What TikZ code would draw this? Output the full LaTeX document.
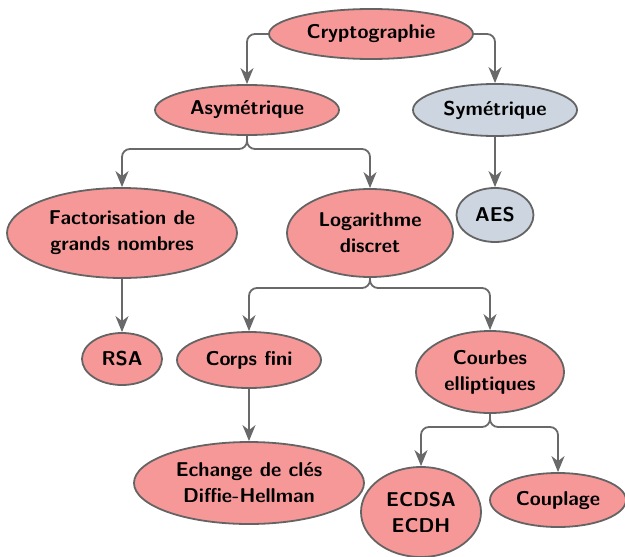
\documentclass[tikz,border=0pt]{standalone}
\usetikzlibrary{shapes.geometric,arrows.meta}
\definecolor{nodered}{RGB}{247,152,152}
\definecolor{nodeblue}{RGB}{205,214,224}
\definecolor{edgegray}{RGB}{100,100,100}
\definecolor{conngray}{RGB}{105,105,105}
\begin{document}
\begin{tikzpicture}[x=0.5pt,y=-0.5pt,
  bubble/.style={ellipse,draw=edgegray,line width=0.9pt,fill=nodered,inner sep=0pt,
    align=center,font=\fontsize{10}{13}\selectfont\sffamily\bfseries},
  bluebubble/.style={bubble,fill=nodeblue},
  conn/.style={draw=conngray,line width=0.9pt,rounded corners=4pt,
    -{Stealth[length=8pt,width=6.5pt,inset=2.5pt]}},
  dim/.style 2 args={minimum width=#1*0.5pt,minimum height=#2*0.5pt}]
\useasboundingbox (0,0) rectangle (625,556);

% tree of nodes
\node[bubble,dim={204}{50}] (crypto) at (371,34) {Cryptographie};
\node[bubble,dim={184}{50}] (asym) at (247,110) {Asymétrique};
\node[bluebubble,dim={164}{52}] (sym) at (495,110) {Symétrique};
\node[bubble,dim={230}{90}] (fact) at (122,233) {Factorisation de\\grands nombres};
\node[bubble,dim={166}{88}] (log) at (370,233) {Logarithme\\discret};
\node[bluebubble,dim={77}{54}] (aes) at (495,215) {AES};
\node[bubble,dim={80}{52}] (rsa) at (122,359) {RSA};
\node[bubble,dim={144}{56}] (corps) at (249,360) {Corps fini};
\node[bubble,dim={148}{82}] (courbes) at (490,372) {Courbes\\elliptiques};
\node[bubble,dim={230}{82}] (echange) at (249,483) {Echange de clés\\Diffie-Hellman};
\node[bubble,dim={120}{90}] (ecdsa) at (421,512) {ECDSA\\ECDH};
\node[bubble,dim={136}{54}] (couplage) at (558,500) {Couplage};

% branching points below parents
\coordinate (j1) at (247,149);
\coordinate (j2) at (370,288);
\coordinate (j3) at (490,427);

% connectors
\draw[conn] (crypto.west) -| (asym.north);
\draw[conn] (crypto.east) -| (sym.north);
\draw[conn] (asym.south) |- (j1) -| (fact.north);
\draw[conn] (asym.south) |- (j1) -| (log.north);
\draw[conn] (sym.south) -- (aes.north);
\draw[conn] (fact.south) -- (rsa.north);
\draw[conn] (log.south) |- (j2) -| (corps.north);
\draw[conn] (log.south) |- (j2) -| (courbes.north);
\draw[conn] (corps.south) -- (echange.north);
\draw[conn] (courbes.south) |- (j3) -| (ecdsa.north);
\draw[conn] (courbes.south) |- (j3) -| (couplage.north);
\end{tikzpicture}
\end{document}
